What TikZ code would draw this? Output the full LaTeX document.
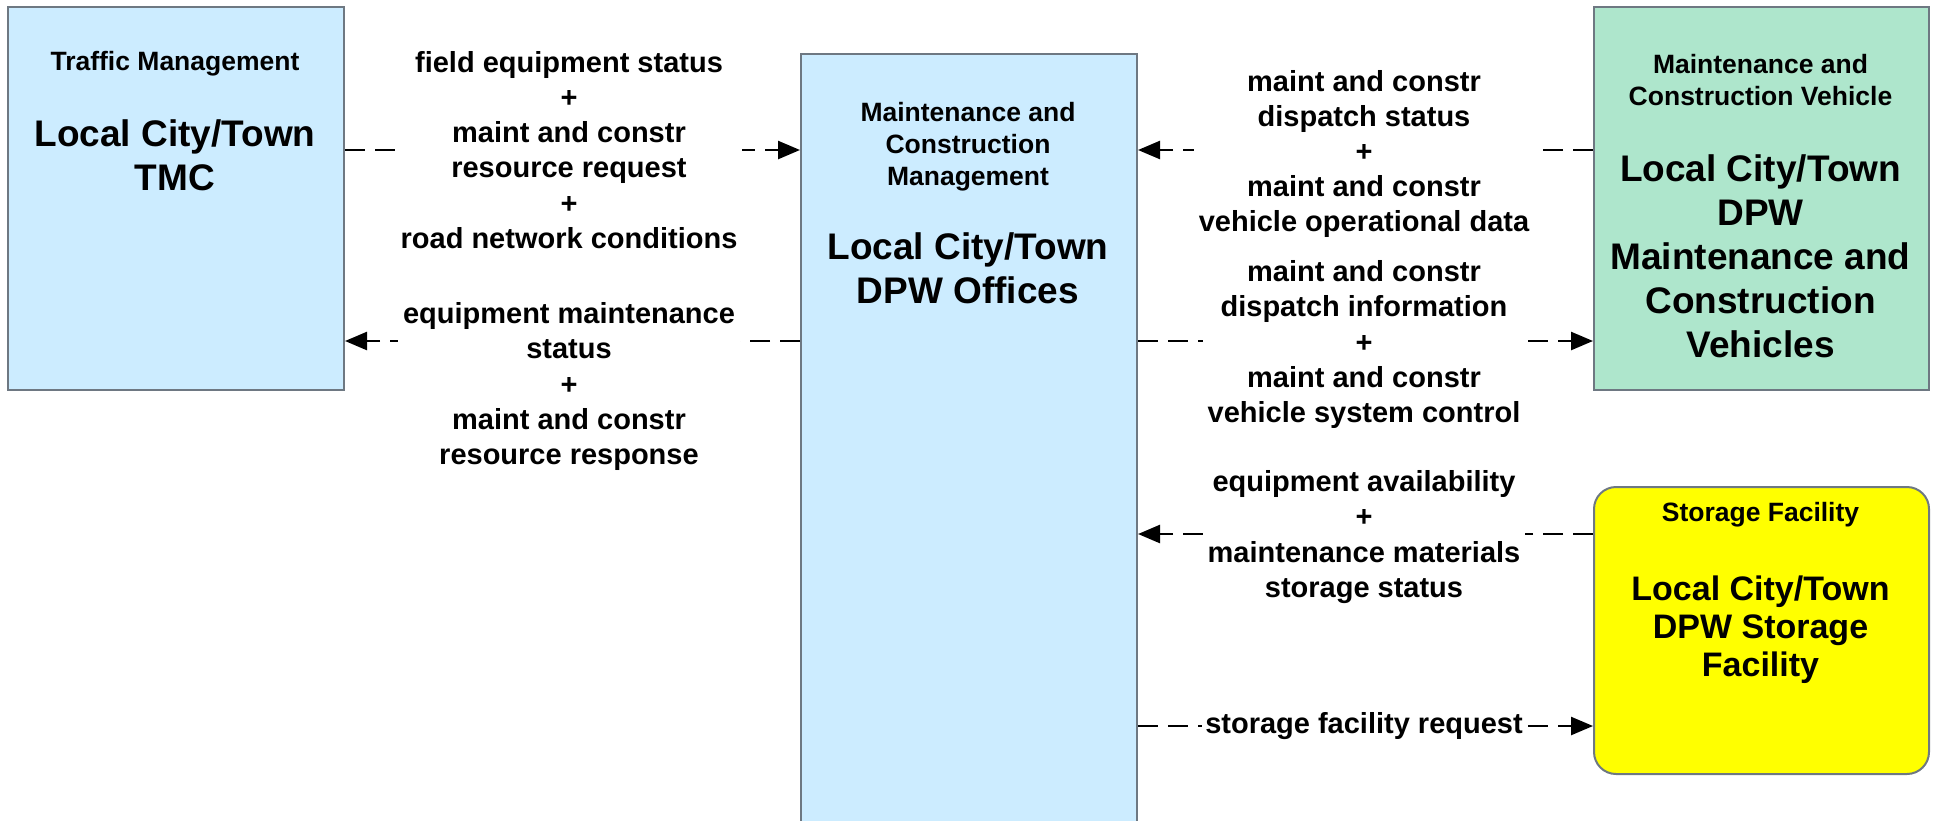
\documentclass[tikz,border=0pt]{standalone}
\usepackage{fontspec}
\setmainfont{Liberation Sans}
\usetikzlibrary{arrows.meta}
\definecolor{ctrblue}{RGB}{204,236,255}
\definecolor{vehgreen}{RGB}{174,230,204}
\definecolor{boxline}{RGB}{110,120,130}
\definecolor{storyellow}{RGB}{255,255,0}
\newcommand\fttitle{\fontsize{26.5}{32}\selectfont\bfseries}
\newcommand\ftbig{\fontsize{37}{44}\selectfont\bfseries}
\newcommand\ftbigs{\fontsize{34}{38}\selectfont\bfseries}
\newcommand\ftlab{\fontsize{29}{35.2}\selectfont\bfseries}
\begin{document}
\begin{tikzpicture}[x=1pt,y=-1pt,
  box/.style={draw=boxline, line width=2pt, inner sep=0pt, anchor=north west},
  flow/.style={line width=2.5pt, dash pattern=on 20pt off 10pt, -{Triangle[length=22pt,width=18pt]}},
  lab/.style={fill=white, inner sep=5pt, align=center, font=\ftlab},
  ttl/.style={align=center, font=\fttitle, inner sep=0pt},
  big/.style={align=center, font=\ftbig, inner sep=0pt},
  bigs/.style={align=center, font=\ftbigs, inner sep=0pt}]
\useasboundingbox (0,0) rectangle (1937,820);
\clip (0,0) rectangle (1937,820);
% boxes
\node[box, fill=ctrblue, minimum width=336pt, minimum height=383pt] (tmc) at (7,6) {};
\node[box, fill=ctrblue, minimum width=336pt, minimum height=777pt] (ctr) at (800,53) {};
\node[box, fill=vehgreen, minimum width=335pt, minimum height=383pt] (veh) at (1593,6) {};
\node[box, fill=storyellow, rounded corners=22pt, minimum width=335pt, minimum height=287pt] (stor) at (1593,486) {};
% box texts
\node[ttl] (tmcT) at (175,64) {Traffic Management};
\node[big] (tmcN) at (175,155) {Local City/Town\\TMC};
\node[ttl] (ctrT) at (968,147) {Maintenance and\\Construction\\Management};
\node[big] (ctrN) at (968,268.5) {Local City/Town\\DPW Offices};
\node[ttl] (vehT) at (1760.5,80) {Maintenance and\\Construction Vehicle};
\node[big] (vehN) at (1760.5,256) {Local City/Town\\DPW\\Maintenance and\\Construction\\Vehicles};
\node[ttl] (storT) at (1760.5,515) {Storage Facility};
\node[bigs] (storN) at (1760.5,629.5) {Local City/Town\\DPW Storage\\Facility};
% arrow levels
\coordinate (a1) at (0,150);
\coordinate (a2) at (0,341);
\coordinate (a3) at (0,534);
\coordinate (a4) at (0,726);
% connectors
\draw[flow] (tmc.east |- a1) -- (ctr.west |- a1);
\draw[flow] (ctr.west |- a2) -- (tmc.east |- a2);
\draw[flow] (veh.west |- a1) -- (ctr.east |- a1);
\draw[flow] (ctr.east |- a2) -- (veh.west |- a2);
\draw[flow] (stor.west |- a3) -- (ctr.east |- a3);
\draw[flow] (ctr.east |- a4) -- (stor.west |- a4);
% labels
\node[lab] (l1) at (569,150) {field equipment status\\+\\maint and constr\\resource request\\+\\road network conditions};
\node[lab] (l2) at (569,386.5) {equipment maintenance\\status\\+\\maint and constr\\resource response};
\node[lab] (l3) at (1364,154) {maint and constr\\dispatch status\\+\\maint and constr\\vehicle operational data};
\node[lab] (l4) at (1364,344.5) {maint and constr\\dispatch information\\+\\maint and constr\\vehicle system control};
\node[lab] (l5) at (1364,537) {equipment availability\\+\\maintenance materials\\storage status};
\node[lab, inner sep=3pt] (l6) at (1364,726) {storage facility request};
\end{tikzpicture}
\end{document}
